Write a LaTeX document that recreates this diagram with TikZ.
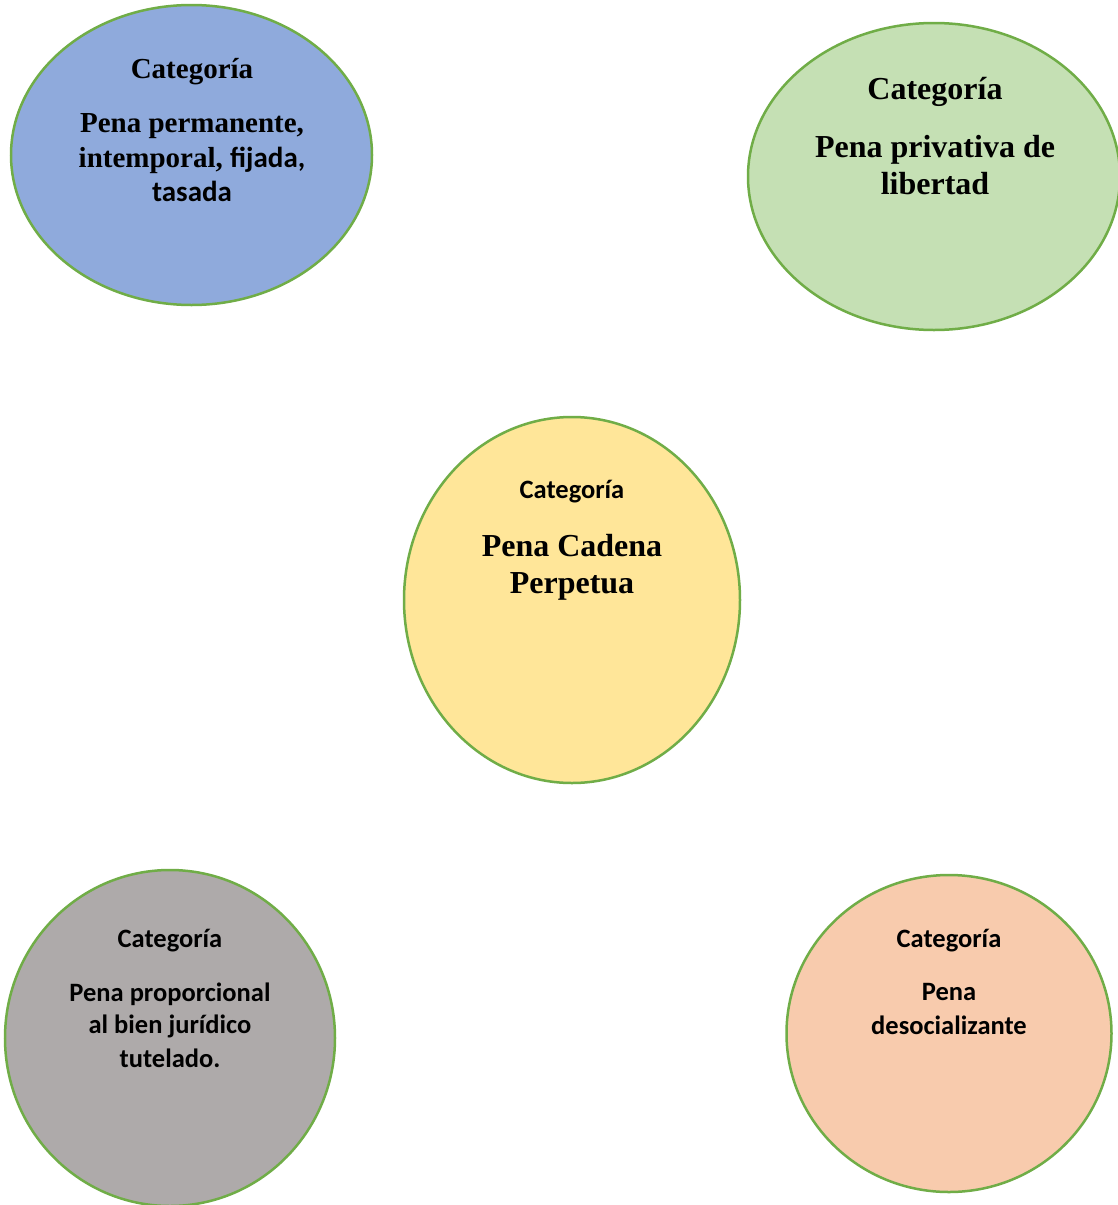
\documentclass[tikz,border=0pt]{standalone}
\usepackage{fontspec}
\setmainfont{Liberation Serif}
\newfontfamily\calib{Carlito}
\usetikzlibrary{shapes.geometric}
\definecolor{cblue}{HTML}{8FAADC}
\definecolor{cgreen}{HTML}{C5E0B4}
\definecolor{cyellow}{HTML}{FFE699}
\definecolor{cgray}{HTML}{AEAAAA}
\definecolor{cpeach}{HTML}{F8CBAD}
\definecolor{cline}{HTML}{70AD47}
\tikzset{
  catell/.style={ellipse, draw=cline, line width=2.5pt, inner sep=0pt, outer sep=0pt},
  lbl/.style={anchor=base, inner sep=0pt, font=\bfseries}
}
\begin{document}
\begin{tikzpicture}[x=1pt,y=-1pt]
\useasboundingbox[fill=white] (0,0) rectangle (1117,1205);
% ellipses
\node[catell, fill=cblue, minimum width=361pt, minimum height=300pt] (e1) at (191.5,155) {};
\node[catell, fill=cgreen, minimum width=372pt, minimum height=307pt] (e2) at (934,176.5) {};
\node[catell, fill=cyellow, minimum width=336pt, minimum height=366pt] (e3) at (572,600) {};
\node[catell, fill=cgray, minimum width=330pt, minimum height=336pt] (e4) at (170,1038) {};
\node[catell, fill=cpeach, minimum width=325pt, minimum height=317pt] (e5) at (949,1033.5) {};
% blue
\node[lbl, font=\bfseries\fontsize{29}{34}\selectfont] (t1a) at (192,78) {Categoría};
\node[lbl, font=\bfseries\fontsize{29}{34}\selectfont] (t1b) at (192,132) {Pena permanente,};
\node[lbl, font=\bfseries\fontsize{29}{34}\selectfont] (t1c) at (192,167) {intemporal, {\calib fijada,}};
\node[lbl, font=\bfseries\calib\fontsize{29}{34}\selectfont] (t1d) at (192,201) {tasada};
% green
\node[lbl, font=\bfseries\fontsize{32}{37}\selectfont] (t2a) at (935,99) {Categoría};
\node[lbl, font=\bfseries\fontsize{32}{37}\selectfont] (t2b) at (935,157) {Pena privativa de};
\node[lbl, font=\bfseries\fontsize{32}{37}\selectfont] (t2c) at (935,194) {libertad};
% yellow
\node[lbl, font=\bfseries\calib\fontsize{26.5}{32}\selectfont] (t3a) at (572,498) {Categoría};
\node[lbl, font=\bfseries\fontsize{32}{37}\selectfont] (t3b) at (572,556) {Pena Cadena};
\node[lbl, font=\bfseries\fontsize{32}{37}\selectfont] (t3c) at (572,593) {Perpetua};
% gray
\node[lbl, font=\bfseries\calib\fontsize{26.5}{32}\selectfont] (t4a) at (170,947) {Categoría};
\node[lbl, font=\bfseries\calib\fontsize{26.5}{32}\selectfont] (t4b) at (170,1001) {Pena proporcional};
\node[lbl, font=\bfseries\calib\fontsize{26.5}{32}\selectfont] (t4c) at (170,1033) {al bien jurídico};
\node[lbl, font=\bfseries\calib\fontsize{26.5}{32}\selectfont] (t4d) at (170,1067) {tutelado.};
% peach
\node[lbl, font=\bfseries\calib\fontsize{26.5}{32}\selectfont] (t5a) at (949,947) {Categoría};
\node[lbl, font=\bfseries\calib\fontsize{26.5}{32}\selectfont] (t5b) at (949,1000) {Pena};
\node[lbl, font=\bfseries\calib\fontsize{26.5}{32}\selectfont] (t5c) at (949,1034) {desocializante};
\end{tikzpicture}
\end{document}
